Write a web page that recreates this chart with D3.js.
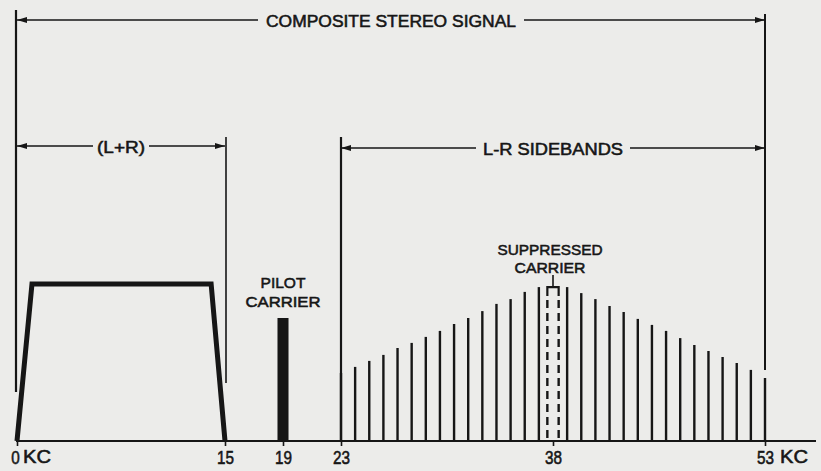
<!DOCTYPE html>
<html><head><meta charset="utf-8">
<script src="https://cdn.jsdelivr.net/npm/d3@7"></script>
<style>
html,body{margin:0;padding:0;background:#ececea;}
svg{display:block;}
text{font-family:"Liberation Sans",Arial,sans-serif;fill:#161616;stroke:#161616;stroke-width:0.55px;}
</style></head><body>
<svg id="c" width="821" height="471"></svg>
<script>
// ---- data ----
const tickKHz = [0, 15, 19, 23, 38, 53];
const tickLabels = ["0", "15", "19", "23", "38", "53"];
const unitLabel = "KC";
const lrFreq = [0, 1.08, 14, 15];
const lrLevel = [0, 52.3, 52.3, 0];
const pilotFreq = [19];
const pilotLevel = [41];
const sideFreq = [23, 24, 25, 26, 27, 28, 29, 30, 31, 32, 33, 34, 35, 36, 37,
                  39, 40, 41, 42, 43, 44, 45, 46, 47, 48, 49, 50, 51, 52, 53];
const sideLevel = [22.7, 24.7, 26.7, 28.7, 31, 32.7, 34.7, 36.7, 39, 41, 43.3, 45.7, 47.3, 49.7, 51.3,
                   51.3, 49.3, 47.3, 45, 43, 40.7, 38.7, 36.7, 34.3, 32, 30, 28, 26, 23.7, 21];
const carrierFreq = [38];
const carrierLevel = [51.3];
const spanLabels = ["COMPOSITE STEREO SIGNAL", "(L+R)", "L-R SIDEBANDS"];
const spanFrom = [0, 0, 23];
const spanTo = [53, 15, 53];
const pilotText = ["PILOT", "CARRIER"];
const carrierText = ["SUPPRESSED", "CARRIER"];

// ---- layout ----
const ink = "#161616";
const svg = d3.select("#c");
const x = d3.scaleLinear().domain(tickKHz).range([17, 225, 283, 341, 553, 765]);
const y = d3.scaleLinear().domain([0, 100]).range([441, 141]);

const defs = svg.append("defs");
defs.append("marker").attr("id", "arr")
  .attr("viewBox", "0 0 10 10").attr("refX", 10).attr("refY", 5)
  .attr("markerWidth", 10).attr("markerHeight", 6)
  .attr("markerUnits", "userSpaceOnUse").attr("orient", "auto")
  .attr("preserveAspectRatio", "none")
  .append("path").attr("d", "M0,0 L10,5 L0,10 Z").attr("fill", ink);

// extension lines
const ext = [
  {x: x(0) - 1, y1: 10, y2: 392, w: 2.2},
  {x: x(53), y1: 14, y2: 370, w: 2},
  {x: x(15) + 1, y1: 137, y2: 383, w: 1.6},
  {x: x(23), y1: 137, y2: 441, w: 2.2}
];
svg.append("g").selectAll("line").data(ext).join("line")
  .attr("x1", d => d.x).attr("x2", d => d.x)
  .attr("y1", d => d.y1).attr("y2", d => d.y2)
  .attr("stroke", ink).attr("stroke-width", d => d.w);

// dimension lines with labels
const spanLayout = [
  {y: 20, w: 250, gap: 8, fs: 16.5},
  {y: 146, w: 48, gap: 4, fs: 16.5},
  {y: 148, w: 140, gap: 7, fs: 16.5}
];
spanLabels.forEach((lab, i) => {
  const L = spanLayout[i];
  const a = x(spanFrom[i]), b = x(spanTo[i]);
  const cx = (a + b) / 2;
  const g = svg.append("g");
  g.append("line").attr("x1", cx - L.w / 2 - L.gap).attr("x2", a)
    .attr("y1", L.y).attr("y2", L.y).attr("stroke", ink).attr("stroke-width", 1.6)
    .attr("marker-end", "url(#arr)");
  g.append("line").attr("x1", cx + L.w / 2 + L.gap).attr("x2", b)
    .attr("y1", L.y).attr("y2", L.y).attr("stroke", ink).attr("stroke-width", 1.6)
    .attr("marker-end", "url(#arr)");
  g.append("text").attr("x", cx).attr("y", L.y + 6.5)
    .attr("text-anchor", "middle").attr("font-size", L.fs)
    .attr("textLength", L.w).attr("lengthAdjust", "spacingAndGlyphs")
    .text(lab);
});

// baseline
svg.append("line").attr("x1", 16).attr("x2", 816).attr("y1", y(0)).attr("y2", y(0))
  .attr("stroke", ink).attr("stroke-width", 2);

// axis ticks + labels
const axis = d3.axisBottom(x).tickValues(tickKHz)
  .tickFormat((d, i) => tickLabels[i]).tickSize(5).tickPadding(5);
const ag = svg.append("g").attr("transform", `translate(0,${y(0)})`).call(axis);
ag.select(".domain").remove();
ag.selectAll(".tick line").attr("stroke", ink).attr("stroke-width", 1.6);
ag.selectAll(".tick text").attr("font-family", '"Liberation Sans",Arial,sans-serif')
  .attr("font-size", 18).attr("fill", ink)
  .attr("dx", (d, i) => i === 0 ? -2 : 0)
  .attr("textLength", (d, i) => tickLabels[i].length * 8.5)
  .attr("lengthAdjust", "spacingAndGlyphs");
svg.append("text").attr("x", x(0) + 6).attr("y", 463).attr("font-size", 18)
  .attr("textLength", 28).attr("lengthAdjust", "spacingAndGlyphs").text(unitLabel);
svg.append("text").attr("x", x(53) + 15).attr("y", 463).attr("font-size", 18)
  .attr("textLength", 28).attr("lengthAdjust", "spacingAndGlyphs").text(unitLabel);

// L+R trapezoid
const lrPts = lrFreq.map((f, i) => [f, lrLevel[i]]);
svg.append("path")
  .attr("d", d3.line().x(d => x(d[0])).y(d => y(d[1]))(lrPts))
  .attr("fill", "none").attr("stroke", ink).attr("stroke-width", 5)
  .attr("stroke-linejoin", "miter");

// pilot carrier
svg.append("g").selectAll("rect").data(pilotFreq).join("rect")
  .attr("x", d => x(d - 0.38)).attr("width", d => x(d + 0.38) - x(d - 0.38))
  .attr("y", (d, i) => y(pilotLevel[i])).attr("height", (d, i) => y(0) - y(pilotLevel[i]))
  .attr("fill", ink);
pilotText.forEach((t, i) => {
  svg.append("text").attr("x", x(pilotFreq[0])).attr("y", 288 + i * 19)
    .attr("text-anchor", "middle").attr("font-size", 15.5)
    .attr("textLength", i === 0 ? 45 : 75).attr("lengthAdjust", "spacingAndGlyphs").text(t);
});

// L-R sidebands
svg.append("g").selectAll("line").data(sideFreq).join("line")
  .attr("x1", d => x(d)).attr("x2", d => x(d))
  .attr("y1", (d, i) => y(sideLevel[i])).attr("y2", y(0))
  .attr("stroke", ink).attr("stroke-width", 2.4);

// suppressed carrier (dashed)
carrierFreq.forEach((f, i) => {
  const l = x(f - 0.4), r = x(f + 0.4), top = y(carrierLevel[i]);
  svg.append("path").attr("d", `M${l},${top + 9} V${top} H${r} V${top + 9}`)
    .attr("fill", "none").attr("stroke", ink).attr("stroke-width", 2.2);
  [l, r].forEach(xx => {
    svg.append("line").attr("x1", xx).attr("x2", xx)
      .attr("y1", top + 13).attr("y2", y(0))
      .attr("stroke", ink).attr("stroke-width", 2.4).attr("stroke-dasharray", "8,5");
  });
  svg.append("line").attr("x1", x(f)).attr("x2", x(f)).attr("y1", top - 12).attr("y2", top)
    .attr("stroke", ink).attr("stroke-width", 1.6);
  carrierText.forEach((t, j) => {
    svg.append("text").attr("x", x(f) - 3).attr("y", 255 + j * 18)
      .attr("text-anchor", "middle").attr("font-size", 15.5)
      .attr("textLength", j === 0 ? 105 : 71).attr("lengthAdjust", "spacingAndGlyphs").text(t);
  });
});
</script>
</body></html>
